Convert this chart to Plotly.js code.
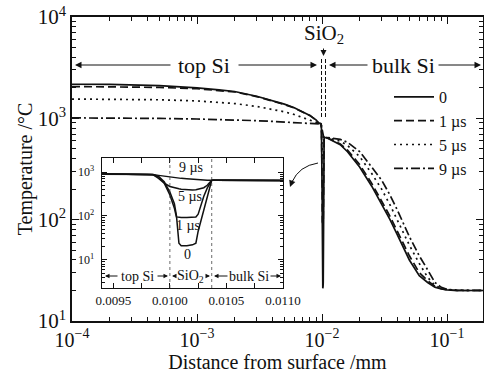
<!DOCTYPE html>
<html><head><meta charset="utf-8">
<script src="https://cdn.plot.ly/plotly-3.0.1.min.js"></script>
<style>
html,body{margin:0;padding:0;background:#fff}
#chart{width:484px;height:373px}
</style>
</head><body><div id="chart"></div>
<script>
// depth grids (mm)
const xTop  = [1e-4, 2e-4, 5e-4, 1e-3, 1.5e-3, 2e-3, 3e-3, 4e-3, 5e-3, 6e-3, 7e-3, 8e-3, 9e-3, 0.0094];
const xOx   = [0.00980, 0.00985, 0.00990, 0.00995, 0.01000, 0.01004, 0.01006, 0.01008, 0.01010, 0.01015, 0.01020, 0.01023, 0.01025, 0.01028, 0.01030, 0.01033, 0.01037];
const xBulk = [0.0104, 0.011, 0.012, 0.014, 0.016, 0.02, 0.025, 0.03, 0.035, 0.04, 0.05, 0.06, 0.07, 0.08, 0.09, 0.1, 0.12, 0.15, 0.2];

// temperatures (°C)
const t0Top = [2170, 2160, 2100, 2000, 1910, 1840, 1650, 1500, 1380, 1270, 1170, 1070, 960, 900];
const t1Top = [2060, 2055, 2020, 1960, 1890, 1820, 1640, 1490, 1370, 1265, 1165, 1065, 955, 900];
const t5Top = [1550, 1545, 1525, 1485, 1440, 1400, 1310, 1225, 1160, 1090, 1020, 965, 920, 895];
const t9Top = [1010, 1008, 998, 985, 975, 965, 948, 932, 920, 912, 905, 900, 895, 890];

const t0Ox = [885, 870, 780, 560, 300, 150, 90, 24, 21, 21, 22, 24, 45, 90, 150, 290, 650];
const t1Ox = [885, 872, 800, 600, 350, 190, 95, 92, 92, 92, 93, 95, 110, 200, 280, 430, 650];
const t5Ox = [888, 875, 720, 560, 470, 435, 425, 415, 405, 393, 390, 395, 405, 425, 440, 500, 650];
const t9Ox = [888, 878, 840, 800, 765, 745, 735, 725, 718, 700, 680, 670, 664, 658, 654, 651, 650];

const t0Bulk = [650, 640, 610, 550, 468, 331, 214, 141, 100, 71, 40, 28, 24, 21.6, 20.7, 20.3, 20, 20, 20];
const t1Bulk = [650, 642, 615, 560, 485, 350, 228, 152, 108, 77, 44, 30, 25, 22, 20.8, 20.3, 20, 20, 20];
const t5Bulk = [650, 645, 625, 595, 540, 420, 285, 200, 140, 100, 56, 37, 27, 22.5, 21, 20.4, 20.1, 20, 20];
const t9Bulk = [650, 648, 640, 620, 580, 470, 330, 245, 175, 125, 68, 44, 32, 24, 21.5, 20.5, 20.1, 20, 20];

const seriesNames = ['0', '1 µs', '5 µs', '9 µs'];
const xTickVals = [1e-4, 1e-3, 1e-2, 1e-1];
const xTickText = ['10<sup>−4</sup>', '10<sup>−3</sup>', '10<sup>−2</sup>', '10<sup>−1</sup>'];
const yTickVals = [10, 100, 1000, 10000];
const yTickText = ['10<sup>1</sup>', '10<sup>2</sup>', '10<sup>3</sup>', '10<sup>4</sup>'];
const insetXTickVals = [0.0095, 0.0100, 0.0105, 0.0110];
const insetXTickText = ['0.0095', '0.0100', '0.0105', '0.0110'];
const insetYTickVals = [10, 100, 1000];
const insetYTickText = ['10<sup>1</sup>', '10<sup>2</sup>', '10<sup>3</sup>'];

// ---- build ----
const xAll = xTop.concat(xOx, xBulk);
const yAll = [
  t0Top.concat(t0Ox, t0Bulk),
  t1Top.concat(t1Ox, t1Bulk),
  t5Top.concat(t5Ox, t5Bulk),
  t9Top.concat(t9Ox, t9Bulk)
];
const dashes = ['solid', '8px,4px', '2px,4px', '9px,3px,2px,3px'];
const FONT = '"Liberation Serif", "Times New Roman", serif';

const traces = [];
yAll.forEach((y, i) => traces.push({
  x: xAll, y: y, xaxis: 'x', yaxis: 'y', mode: 'lines', name: seriesNames[i],
  line: {color: '#111', width: 1.7, dash: dashes[i]}, hoverinfo: 'skip'
}));
yAll.forEach((y, i) => traces.push({
  x: xAll, y: y, xaxis: 'x2', yaxis: 'y2', mode: 'lines', showlegend: false,
  line: {color: '#111', width: 1.5}, hoverinfo: 'skip'
}));

// plot area in pixels
const L = 72, R = 483, T = 17, B = 321;
const px = p => (p - L) / (R - L);
const py = p => (B - p) / (B - T);

function minorLog(lo, hi) {
  const v = [];
  for (let e = lo; e < hi; e++) for (let k = 2; k <= 9; k++) v.push(k * Math.pow(10, e));
  return v;
}

function arrowAnn(headX, tailX, yPix, size) {
  return {xref: 'paper', yref: 'paper', x: px(headX), y: py(yPix), ax: tailX - headX, ay: 0,
          text: '', showarrow: true, arrowhead: 2, arrowsize: size || 1.3, arrowwidth: 1, arrowcolor: '#111'};
}
function textAnn(cx, cy, text, size) {
  return {xref: 'paper', yref: 'paper', x: px(cx), y: py(cy), text: text, showarrow: false,
          xanchor: 'center', yanchor: 'middle', font: {family: FONT, size: size, color: '#111'}};
}

const annotations = [
  // main region labels
  textAnn(204, 65, 'top Si', 22),
  arrowAnn(75, 172, 65), arrowAnn(317, 237, 65),
  textAnn(403, 65, 'bulk Si', 22),
  arrowAnn(329, 369, 65), arrowAnn(481, 437, 65),
  {xref: 'paper', yref: 'paper', x: px(323.5), y: py(56), ax: 0, ay: -22, text: 'SiO<sub>2</sub>',
   showarrow: true, arrowhead: 2, arrowsize: 1.2, arrowwidth: 1, arrowcolor: '#111',
   font: {family: FONT, size: 21, color: '#111'}},
  // inset region labels
  textAnn(137, 276, 'top Si', 14),
  arrowAnn(105, 119, 276, 0.9), arrowAnn(168, 156, 276, 0.9),
  textAnn(190, 276, 'SiO<sub>2</sub>', 14),
  arrowAnn(172, 176, 276, 0.9), arrowAnn(210, 205, 276, 0.9),
  textAnn(249, 276, 'bulk Si', 14),
  arrowAnn(214, 229, 276, 0.9), arrowAnn(281, 269, 276, 0.9),
  // inset curve labels
  textAnn(191, 167, '9 µs', 14),
  textAnn(190, 196, '5 µs', 14),
  textAnn(188, 225, '1 µs', 14),
  textAnn(187, 254, '0', 14),
  // curved pointer arrowhead
  {xref: 'paper', yref: 'paper', x: px(290), y: py(187), ax: 3, ay: -8, text: '', showarrow: true,
   arrowhead: 2, arrowsize: 1.3, arrowwidth: 1, arrowcolor: '#111'}
];

const shapes = [
  {type: 'line', xref: 'paper', yref: 'paper', x0: px(321.5), x1: px(321.5), y0: py(117), y1: py(57),
   line: {color: '#111', width: 1, dash: '4px,2px'}},
  {type: 'line', xref: 'paper', yref: 'paper', x0: px(325.5), x1: px(325.5), y0: py(117), y1: py(57),
   line: {color: '#111', width: 1, dash: '4px,2px'}},
  {type: 'line', xref: 'x2', yref: 'paper', x0: 0.0100, x1: 0.0100, y0: py(288), y1: py(158),
   line: {color: '#444', width: 0.8, dash: '3px,3px'}},
  {type: 'line', xref: 'x2', yref: 'paper', x0: 0.01037, x1: 0.01037, y0: py(288), y1: py(158),
   line: {color: '#444', width: 0.8, dash: '3px,3px'}},
  {type: 'path', xref: 'paper', yref: 'paper',
   path: 'M ' + px(318) + ',' + py(163) + ' Q ' + px(299) + ',' + py(166) + ' ' + px(292) + ',' + py(182),
   line: {color: '#111', width: 1}}
];

const axisCommon = {showline: true, linecolor: '#111', linewidth: 1.6, mirror: 'allticks',
  ticks: 'inside', tickcolor: '#111', showgrid: false, zeroline: false};

const layout = {
  width: 484, height: 373,
  margin: {l: L, r: 484 - R, t: T, b: 373 - B},
  paper_bgcolor: '#fff', plot_bgcolor: '#fff',
  font: {family: FONT, color: '#111'},
  showlegend: true,
  legend: {x: px(389), y: py(80), xanchor: 'left', yanchor: 'top', bgcolor: 'rgba(0,0,0,0)',
           font: {family: FONT, size: 16, color: '#111'}, itemwidth: 40, tracegroupgap: 0},
  xaxis: Object.assign({}, axisCommon, {
    type: 'log', range: [-4, -0.712], domain: [0, 1], anchor: 'y',
    tickmode: 'array', tickvals: xTickVals, ticktext: xTickText, ticklen: 7, tickwidth: 1,
    tickfont: {family: FONT, size: 20},
    minor: {tickmode: 'array', tickvals: minorLog(-4, 0), ticks: 'inside', ticklen: 4, tickcolor: '#111', showgrid: false},
    title: {text: 'Distance from surface /mm', font: {family: FONT, size: 20}, standoff: 14}
  }),
  yaxis: Object.assign({}, axisCommon, {
    type: 'log', range: [1, 4], domain: [0, 1], anchor: 'x',
    tickmode: 'array', tickvals: yTickVals, ticktext: yTickText, ticklen: 7, tickwidth: 1,
    tickfont: {family: FONT, size: 21},
    minor: {tickmode: 'array', tickvals: minorLog(1, 4), ticks: 'inside', ticklen: 4, tickcolor: '#111', showgrid: false},
    title: {text: 'Temperature /°C', font: {family: FONT, size: 20}, standoff: 0}
  }),
  xaxis2: Object.assign({}, axisCommon, {
    domain: [px(102), px(283)], anchor: 'y2', range: [0.0094, 0.0110], linewidth: 1.4,
    tickmode: 'array', tickvals: insetXTickVals, ticktext: insetXTickText, ticklen: 5, tickwidth: 1,
    tickfont: {family: FONT, size: 13},
    minor: {tickmode: 'array', tickvals: [0.00975, 0.01025, 0.01075], ticks: 'inside', ticklen: 5, tickcolor: '#111', showgrid: false}
  }),
  yaxis2: Object.assign({}, axisCommon, {
    domain: [py(288), py(158)], anchor: 'x2', type: 'log', range: [0.36, 3.32], linewidth: 1.4,
    tickmode: 'array', tickvals: insetYTickVals, ticktext: insetYTickText, ticklen: 5, tickwidth: 1,
    tickfont: {family: FONT, size: 12}, ticklabelstandoff: 4,
    minor: {tickmode: 'array', tickvals: minorLog(0, 4), ticks: 'inside', ticklen: 3, tickcolor: '#111', showgrid: false}
  }),
  annotations: annotations,
  shapes: shapes
};

Plotly.newPlot('chart', traces, layout, {displayModeBar: false, staticPlot: true});
</script>
</body></html>
